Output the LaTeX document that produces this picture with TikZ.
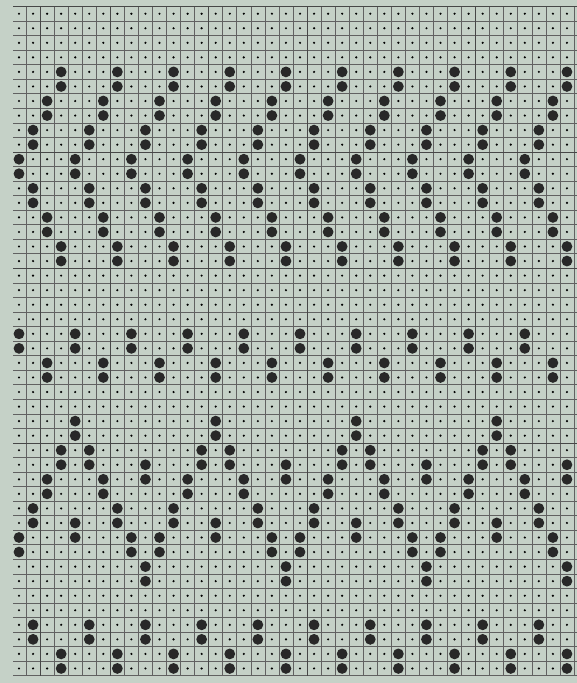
\documentclass[tikz,border=0pt]{standalone}
\usepackage{tikz}
\definecolor{chartbg}{RGB}{197,209,199}
\definecolor{stitchdark}{RGB}{40,40,40}
% one stitch drawn over two rows
\newcommand{\purlpair}[2]{\fill[purl] (#1,#2) circle[radius=5.4pt] (#1,#2+1) circle[radius=5.4pt];}

\begin{document}
\begin{tikzpicture}[x=14.05pt,y=-14.55pt,
  gridline/.style={black!62,line width=0.6pt},
  heavyline/.style={black!72,line width=0.85pt},
  purl/.style={fill=stitchdark}]
  % paper
  \fill[chartbg] (-19pt,13.7pt) rectangle (558pt,-669.3pt);
  \useasboundingbox (-19pt,13.7pt) rectangle (558pt,-669.3pt);
  % grid, 40 stitches by 46 rows
  \foreach \k in {0,...,46}
    \draw[gridline] (-0.4,\k-0.5) -- (39.72,\k-0.5);
  \foreach \k in {1,...,40}
    \draw[gridline] (\k-0.5,-0.5) -- (\k-0.5,45.5);
  % darker printed lines
  \foreach \k in {1.5,6.5,13.5,20.5,32.5}
    \draw[heavyline] (\k,-0.5) -- (\k,45.5);
  \foreach \k in {-0.5,9.5,17.5,29.5}
    \draw[heavyline] (-0.4,\k) -- (39.72,\k);
  % small dot in every square
  \foreach \c in {0,...,39}
    \foreach \r in {0,...,45}
      \fill (\c,\r) circle[radius=1.2pt];
  % zigzag bands, repeat of 4 stitches
  \foreach \r/\o in {4/3,6/2,8/1,10/0,12/1,14/2,16/3,22/0,24/2,42/1,44/3}
    \foreach \k in {0,...,9} {
      \pgfmathtruncatemacro{\c}{\o+4*\k}
      \ifnum\c<40 \purlpair{\c}{\r}\fi
    }
  % large zigzag, repeat of 10 stitches
  \foreach \r/\j in {28/4,30/3,30/5,31/9,32/2,32/6,34/1,34/7,35/4,36/0,36/8,38/9}
    \foreach \p in {0,10,20,30} {
      \purlpair{\p+\j}{\r}
    }
\end{tikzpicture}
\end{document}
